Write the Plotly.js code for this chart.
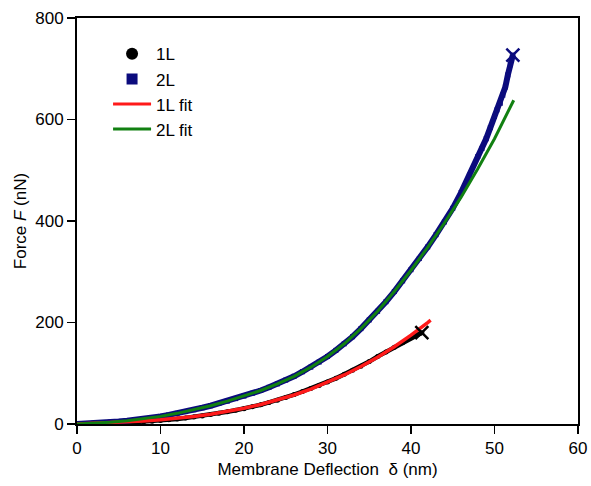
<!DOCTYPE html>
<html>
<head>
<meta charset="utf-8">
<script src="https://cdn.plot.ly/plotly-3.0.1.min.js"></script>
<style>html,body{margin:0;padding:0;background:#fff}#chart{width:591px;height:486px}</style>
</head>
<body>
<div id="chart"></div>
<script>
// 1L measured data
const x1L = [0,1,2,3,4,5,6,7,8,9,10,11,12,13,14,15,16,17,18,19,20,21,22,23,24,25,26,27,28,29,30,31,32,33,34,35,36,37,38,39,40,40.5,41,41.3];
const y1L = [0,0,0.5,1,1.5,2,2.5,3.5,4.5,5.5,7,8.5,10,12,14,16,18.5,21,24,27,30,34,38,42.5,47,52,58,64,70,76,83,90,98,106,114,123,133,142,151,160,170,175,178,180];
// 2L measured data
const x2L = [0,1,2,3,4,5,6,7,8,9,10,11,12,13,14,15,16,17,18,19,20,21,22,23,24,25,26,27,28,29,30,31,32,33,34,35,36,37,38,39,40,41,42,43,44,45,46,47,48,48.5,49,49.5,50,50.3,50.7,51,51.3,51.6,51.9,52.2];
const y2L = [0,0.5,1.5,2.5,3.5,5,6.5,8,10,12.5,15,18,21,24.5,28,32,36,40.5,45,50,55,60.5,66,72.5,79,86.5,94,103,112,122,133,145,158,172,188,205,222,241,261,282,304,326,349,373,398,425,456,490,527,543,562,584,606,619,632,648,664,688,708,727];
// fits
const xFit1L = [0,2,4,6,8,10,12,14,16,18,20,22,24,26,28,30,32,34,36,38,40,42,42.35];
const yFit1L = [0,1.2,2.6,4.2,6.1,8.4,11.4,15.0,19.4,24.7,31.0,38.4,47.1,57.2,68.7,81.8,96.6,113.2,131.7,152.3,175.0,199.9,204.5];
const xFit2L = [0,2,4,6,8,10,12,14,16,18,20,22,24,26,28,30,32,34,36,38,40,42,44,46,48,50,52.3];
const yFit2L = [0,1.5,3.5,6.5,10,15,21,28,36,45,55,66,79,94,112,133,158,188,222,261,303,348,396,447,503,562,638];
// rupture points
const xEnd = [41.3, 52.2];
const yEnd = [180, 727];
const legendNames = ['1L', '2L', '1L fit', '2L fit'];

const navy = '#0b0b7d';
const red = '#ff1a1a';
const green = '#118011';
const traces = [
  {x:x1L, y:y1L, mode:'lines+markers', line:{color:'#000', width:4.5}, marker:{symbol:'circle', color:'#000', size:5}, showlegend:false, hoverinfo:'skip'},
  {x:x2L, y:y2L, mode:'lines+markers', line:{color:navy, width:6}, marker:{symbol:'square', color:navy, size:5}, showlegend:false, hoverinfo:'skip'},
  {x:xFit1L, y:yFit1L, mode:'lines', line:{color:red, width:3.5}, showlegend:false},
  {x:xFit2L, y:yFit2L, mode:'lines', line:{color:green, width:3}, showlegend:false},
  {x:[xEnd[0]], y:[yEnd[0]], mode:'markers', showlegend:false, marker:{symbol:'x-thin-open', size:13, color:'#000', line:{color:'#000', width:2.5}}},
  {x:[xEnd[1]], y:[yEnd[1]], mode:'markers', showlegend:false, marker:{symbol:'x-thin-open', size:13, color:navy, line:{color:navy, width:2.5}}},
  // legend entries
  {x:[null], y:[null], mode:'markers', name:legendNames[0], marker:{symbol:'circle', color:'#000', size:12}},
  {x:[null], y:[null], mode:'markers', name:legendNames[1], marker:{symbol:'square', color:navy, size:11}},
  {x:[null], y:[null], mode:'lines', name:legendNames[2], line:{color:red, width:3}},
  {x:[null], y:[null], mode:'lines', name:legendNames[3], line:{color:green, width:3}}
];

const ff = '"Liberation Sans", Arial, sans-serif';
const layout = {
  width:591, height:486,
  margin:{l:77, r:13, t:18, b:62},
  paper_bgcolor:'#fff', plot_bgcolor:'#fff',
  font:{family:ff, size:16, color:'#000'},
  showlegend:true,
  legend:{x:0.062, y:0.955, xanchor:'left', yanchor:'top', bgcolor:'rgba(0,0,0,0)', font:{family:ff, size:17, color:'#000'}, tracegroupgap:0, itemwidth:38},
  xaxis:{
    range:[0,60], tickvals:[0,10,20,30,40,50,60], ticks:'outside', ticklen:8, tickwidth:1.5, tickcolor:'#000',
    showline:true, linecolor:'#000', linewidth:2, mirror:true, showgrid:false, zeroline:false,
    tickfont:{family:ff, size:17, color:'#000'},
    title:{text:'Membrane Deflection  δ (nm)', font:{family:ff, size:17, color:'#000'}, standoff:6}
  },
  yaxis:{
    range:[0,800], tickvals:[0,200,400,600,800], ticks:'outside', ticklen:8, tickwidth:1.5, tickcolor:'#000',
    showline:true, linecolor:'#000', linewidth:2, mirror:true, showgrid:false, zeroline:false,
    tickfont:{family:ff, size:17, color:'#000'},
    title:{text:'Force <i>F</i> (nN)', font:{family:ff, size:17, color:'#000'}, standoff:4}
  }
};
Plotly.newPlot('chart', traces, layout, {displayModeBar:false, staticPlot:true});
</script>
</body>
</html>
